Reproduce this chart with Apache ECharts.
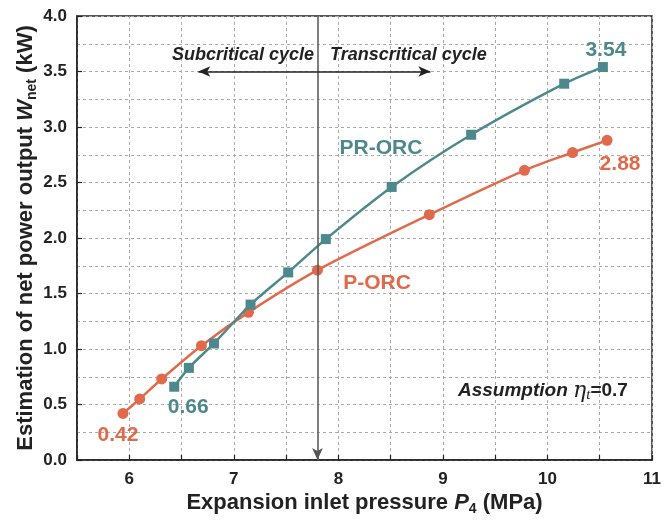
<!DOCTYPE html>
<html>
<head>
<meta charset="utf-8">
<script src="https://cdn.jsdelivr.net/npm/echarts@6/dist/echarts.min.js"></script>
<style>
html,body{margin:0;padding:0;background:#fff;}
#c{width:664px;height:525px;}
</style>
</head>
<body>
<div id="c"></div>
<script>
// ---- data ----
var prX = [6.43, 6.57, 6.81, 7.16, 7.52, 7.88, 8.51, 9.27, 10.16, 10.53];
var prY = [0.66, 0.83, 1.05, 1.40, 1.69, 1.99, 2.46, 2.93, 3.39, 3.54];
var pX = [5.94, 6.10, 6.31, 6.69, 7.14, 7.80, 8.87, 9.78, 10.24, 10.57];
var pY = [0.42, 0.55, 0.73, 1.03, 1.33, 1.71, 2.21, 2.61, 2.77, 2.88];
var xTicks = [6, 7, 8, 9, 10, 11];
var yTicks = [0.0, 0.5, 1.0, 1.5, 2.0, 2.5, 3.0, 3.5, 4.0];
var boundaryP = 7.8;

var TEAL = '#4d888d';
var ORANGE = '#e06a4c';
var FONT = '"Liberation Sans", Arial, sans-serif';

function pairs(xs, ys){ return xs.map(function(x,i){ return [x, ys[i]]; }); }

var titleRich = {
  a: {fontSize: 22, fontWeight: 'bold', color: '#222', fontFamily: FONT, lineHeight: 26, verticalAlign: 'middle'},
  i: {fontSize: 22, fontWeight: 'bold', fontStyle: 'italic', color: '#222', fontFamily: FONT, lineHeight: 26, verticalAlign: 'middle'},
  s: {fontSize: 14, fontWeight: 'bold', color: '#222', fontFamily: FONT, lineHeight: 14, verticalAlign: 'bottom', padding: [12,0,0,0]}
};

var chart = echarts.init(document.getElementById('c'), null, {renderer:'canvas'});
var option = {
  animation: false,
  backgroundColor: '#fff',
  textStyle: {fontFamily: FONT},
  grid: {left: 77, right: 8, top: 16, bottom: 65, show: true, borderColor: '#222', borderWidth: 1.5},
  xAxis: {
    type: 'value', min: 5.5, max: 11, interval: 0.5,
    axisLine: {show: true, onZero: false, lineStyle: {color: '#222', width: 1.5}},
    axisTick: {show: true, inside: true, length: 5, lineStyle: {color: '#222', width: 1.2}},
    axisLabel: {color: '#222', fontSize: 17, fontWeight: 'bold', fontFamily: FONT, margin: 11,
      formatter: function(v){ return xTicks.indexOf(v) >= 0 ? String(v) : ''; }},
    splitLine: {show: true, lineStyle: {color: '#aaa', type: [3,3], width: 1}},
    name: '{a|Expansion inlet pressure }{i|P}{s|4}{a| (MPa)}',
    nameLocation: 'middle', nameGap: 30, nameMoveOverlap: false,
    nameTextStyle: {rich: titleRich}
  },
  yAxis: {
    type: 'value', min: 0, max: 4, interval: 0.5,
    axisLine: {show: true, lineStyle: {color: '#222', width: 1.5}},
    axisTick: {show: true, inside: true, length: 5, lineStyle: {color: '#222', width: 1.2}},
    axisLabel: {color: '#222', fontSize: 17, fontWeight: 'bold', fontFamily: FONT, margin: 10,
      formatter: function(v){ return v.toFixed(1); }},
    splitLine: {show: true, lineStyle: {color: '#aaa', type: [3,3], width: 1}},
    minorTick: {show: false, splitNumber: 2},
    minorSplitLine: {show: true, lineStyle: {color: '#aaa', type: [3,3], width: 1}},
    name: '{a|Estimation of net power output }{i|W}{s|net}{a| (kW)}',
    nameLocation: 'middle', nameGap: 38, nameRotate: 90, nameMoveOverlap: false,
    nameTextStyle: {rich: titleRich}
  },
  series: [
    {
      name: 'P-ORC', type: 'line', data: pairs(pX, pY), smooth: 0.3,
      symbol: 'circle', symbolSize: 11,
      lineStyle: {color: ORANGE, width: 2.5}, itemStyle: {color: ORANGE},
      z: 3,
      markLine: {
        silent: true, symbol: ['none', 'arrow'], symbolSize: [8, 12],
        label: {show: false},
        lineStyle: {color: '#555', width: 1.5, type: 'solid'},
        data: [[{coord: [boundaryP, 4]}, {coord: [boundaryP, 0]}]]
      }
    },
    {
      name: 'PR-ORC', type: 'line', data: pairs(prX, prY), smooth: 0.3,
      symbol: 'rect', symbolSize: 10,
      lineStyle: {color: TEAL, width: 2.5}, itemStyle: {color: TEAL},
      z: 4,
      markLine: {
        silent: true, symbol: ['arrow', 'arrow'], symbolSize: [8, 12],
        label: {show: false},
        lineStyle: {color: '#222', width: 1.5, type: 'solid'},
        data: [[{coord: [6.66, 3.5]}, {coord: [8.88, 3.5]}]]
      }
    }
  ]
};
chart.setOption(option);

function px(x, y){ return chart.convertToPixel({gridIndex: 0}, [x, y]); }

function txt(x, y, text, color, size, align, italic){
  return {
    type: 'text', x: x, y: y, z: 100,
    style: {text: text, fill: color, fontSize: size, fontWeight: 'bold', fontStyle: italic ? 'italic' : 'normal',
      fontFamily: FONT, align: align || 'center', verticalAlign: 'middle'}
  };
}

var lbl354 = px(prX[prX.length-1], prY[prY.length-1]);
var lbl288 = px(pX[pX.length-1], pY[pY.length-1]);
var lbl066 = px(prX[0], prY[0]);
var lbl042 = px(pX[0], pY[0]);

chart.setOption({
  graphic: [
    txt(lbl354[0]+3, lbl354[1]-17, prY[prY.length-1].toFixed(2), TEAL, 21, 'center'),
    txt(lbl288[0]+13, lbl288[1]+24, pY[pY.length-1].toFixed(2), ORANGE, 21, 'center'),
    txt(lbl066[0]+14, lbl066[1]+20, prY[0].toFixed(2), TEAL, 21, 'center'),
    txt(lbl042[0]-5, lbl042[1]+22, pY[0].toFixed(2), ORANGE, 21, 'center'),
    txt(381, 148, 'PR-ORC', TEAL, 21, 'center'),
    txt(377, 283, 'P-ORC', ORANGE, 21, 'center'),
    txt(314, 55, 'Subcritical cycle', '#222', 18, 'right', true),
    txt(330, 55, 'Transcritical cycle', '#222', 18, 'left', true),
    {
      type: 'text', x: 458, y: 391, z: 100,
      style: {
        text: '{a|Assumption }{g|η}{s|t}{b|=0.7}',
        verticalAlign: 'middle', align: 'left',
        rich: {
          a: {fontSize: 19, fontWeight: 'bold', fontStyle: 'italic', fill: '#222', fontFamily: FONT, lineHeight: 24, verticalAlign: 'middle'},
          g: {fontSize: 22, fontStyle: 'italic', fill: '#222', fontFamily: '"DejaVu Serif", serif', lineHeight: 24, verticalAlign: 'middle'},
          s: {fontSize: 15, fontStyle: 'italic', fill: '#222', fontFamily: '"Liberation Serif", serif', lineHeight: 15, verticalAlign: 'bottom', padding: [9,0,0,0]},
          b: {fontSize: 19, fontWeight: 'bold', fill: '#222', fontFamily: FONT, lineHeight: 24, verticalAlign: 'middle'}
        }
      }
    }
  ]
});
</script>
</body>
</html>
